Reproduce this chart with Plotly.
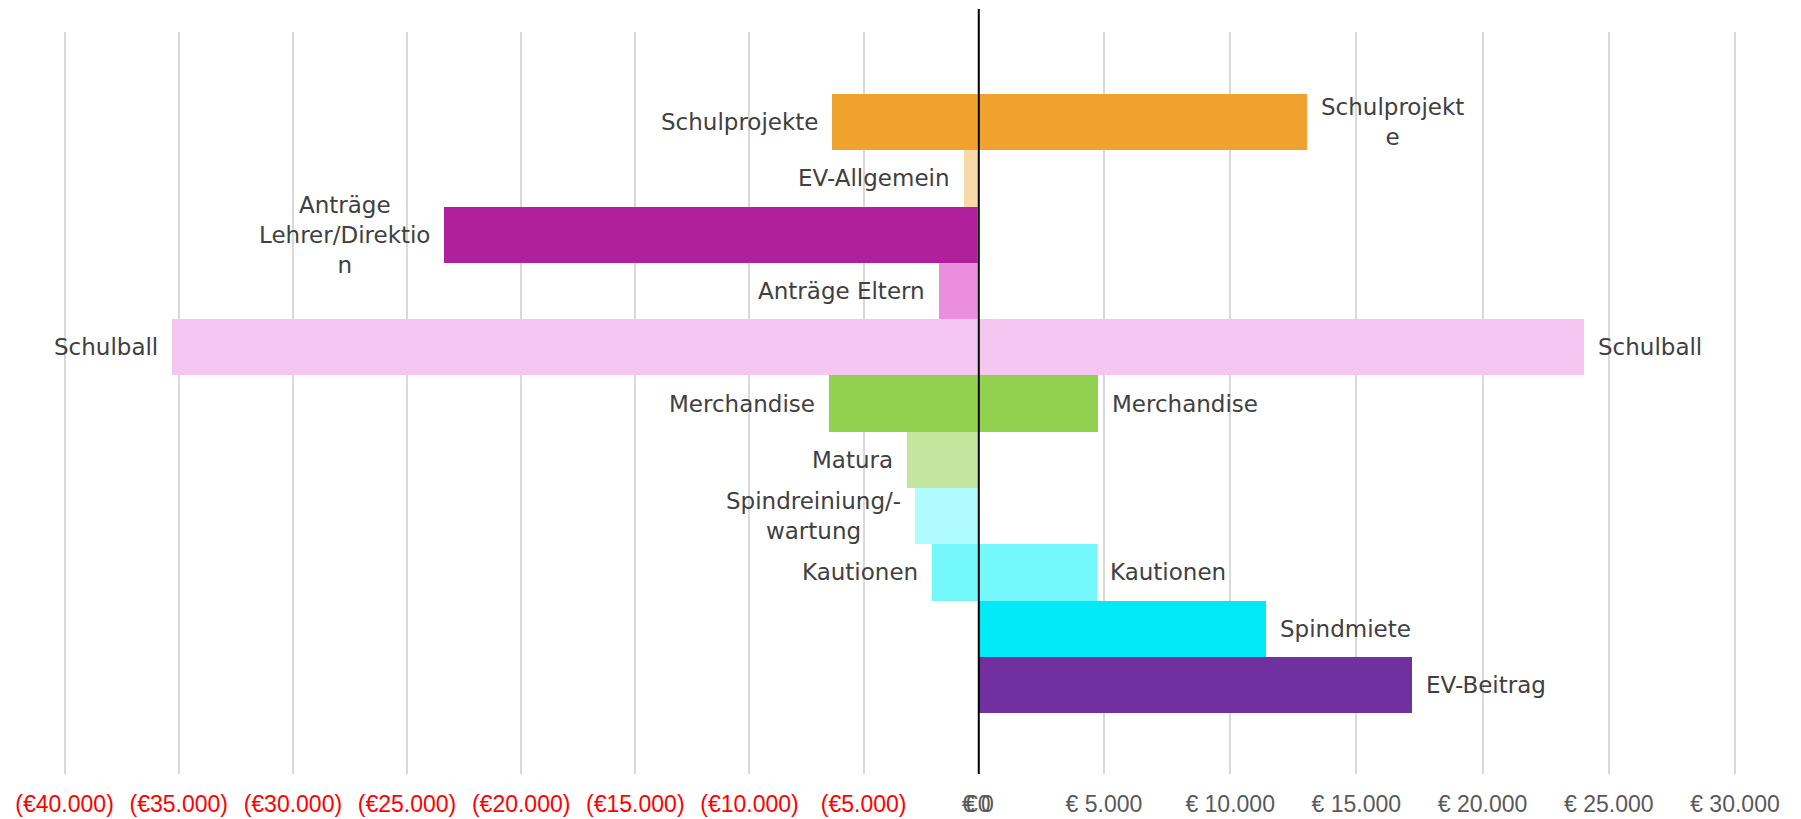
import plotly.graph_objects as go

categories = ["Schulprojekte", "EV-Allgemein", "Anträge Lehrer/Direktion", "Anträge Eltern",
              "Schulball", "Merchandise", "Matura", "Spindreiniung/-wartung", "Kautionen",
              "Spindmiete", "EV-Beitrag"]
ausgaben = [6400, 600, 23400, 1700, 35300, 6500, 3100, 2750, 2000, 0, 0]
einnahmen = [13050, 0, 0, 0, 24000, 4750, 0, 0, 4700, 11400, 17200]
left_labels = ["Schulprojekte", "EV-Allgemein", "Anträge<br>Lehrer/Direktio<br>n", "Anträge Eltern",
               "Schulball", "Merchandise", "Matura", "Spindreiniung/-<br>wartung", "Kautionen", "", ""]
right_labels = ["Schulprojekt<br>e", "", "", "", "Schulball", "Merchandise", "", "", "Kautionen",
                "Spindmiete", "EV-Beitrag"]
colors = ["#F0A22E", "#F8DAA9", "#B01F9C", "#EC8EE0", "#F4C6F0", "#92D050", "#C3E59E",
          "#B0FCFD", "#75F8FC", "#00E9F5", "#7030A0"]

left_ticks = [-40000, -35000, -30000, -25000, -20000, -15000, -10000, -5000, 0]
left_ticktext = ["(€40.000)", "(€35.000)", "(€30.000)", "(€25.000)", "(€20.000)", "(€15.000)",
                 "(€10.000)", "(€5.000)", '<span style="color:#595959">€0</span>']
right_ticks = [0, 5000, 10000, 15000, 20000, 25000, 30000]
right_ticktext = ["€ 0", "€ 5.000", "€ 10.000", "€ 15.000", "€ 20.000", "€ 25.000", "€ 30.000"]

# page body has an 8px margin -> figure coordinates are shifted by 8px
W, H = 1793, 810
x_min_px, x_zero_px, x_max_px = 57, 970, 1727
left_min, right_max, pad = -40000, 30000, 200
lppu = (x_zero_px - x_min_px) / -left_min
rppu = (x_max_px - x_zero_px) / right_max
ml = x_min_px - pad * lppu
plot_right = x_max_px + pad * rppu
mr = W - plot_right
mt, mb = 24, 44
split = (x_zero_px - ml) / (plot_right - ml)

fig = go.Figure()
fig.add_trace(go.Bar(y=categories, x=[-v for v in ausgaben], orientation="h",
                     marker=dict(color=colors, line=dict(width=0)), xaxis="x", yaxis="y",
                     hoverinfo="x+y", showlegend=False))
fig.add_trace(go.Bar(y=categories, x=einnahmen, orientation="h",
                     marker=dict(color=colors, line=dict(width=0)), xaxis="x2", yaxis="y",
                     hoverinfo="x+y", showlegend=False))

lab_font = dict(family="DejaVu Sans", size=23, color="#404040")
for cat, v, t in zip(categories, ausgaben, left_labels):
    if v and t:
        fig.add_annotation(x=-v, y=cat, xref="x", yref="y", text=t, showarrow=False,
                           xanchor="right", yanchor="middle", xshift=-12, align="center",
                           font=lab_font)
for cat, v, t in zip(categories, einnahmen, right_labels):
    if v and t:
        fig.add_annotation(x=v, y=cat, xref="x2", yref="y", text=t, showarrow=False,
                           xanchor="left", yanchor="middle", xshift=12, align="center",
                           font=lab_font)

# zero line
fig.add_shape(type="line", xref="x2", yref="paper", x0=0, x1=0, y0=0,
              y1=1 + (mt - 1) / (H - mt - mb), line=dict(color="black", width=4), layer="above")

tick_font = dict(family="Liberation Sans", size=23)
fig.update_layout(
    width=W, height=H,
    margin=dict(l=ml, r=mr, t=mt, b=mb, autoexpand=False),
    paper_bgcolor="white", plot_bgcolor="white",
    bargap=0, barmode="overlay",
    xaxis=dict(domain=[0, split], range=[left_min - pad, 0], tickvals=left_ticks,
               ticktext=left_ticktext, tickfont=dict(tick_font, color="#FF0000"),
               showgrid=True, gridcolor="#D9D9D9", gridwidth=1.5, zeroline=False,
               showline=False, ticks="", ticklabelstandoff=14, automargin=False, fixedrange=True),
    xaxis2=dict(domain=[split, 1], range=[0, right_max + pad], tickvals=right_ticks,
                ticktext=right_ticktext, tickfont=dict(tick_font, color="#595959"),
                showgrid=True, gridcolor="#D9D9D9", gridwidth=1.5, zeroline=False,
                showline=False, ticks="", anchor="y", ticklabelstandoff=14,
                automargin=False, fixedrange=True),
    yaxis=dict(range=[11.58, -1.60], showticklabels=False, showgrid=False, zeroline=False,
               showline=False, automargin=False, fixedrange=True),
)

fig.write_html("out.html")
